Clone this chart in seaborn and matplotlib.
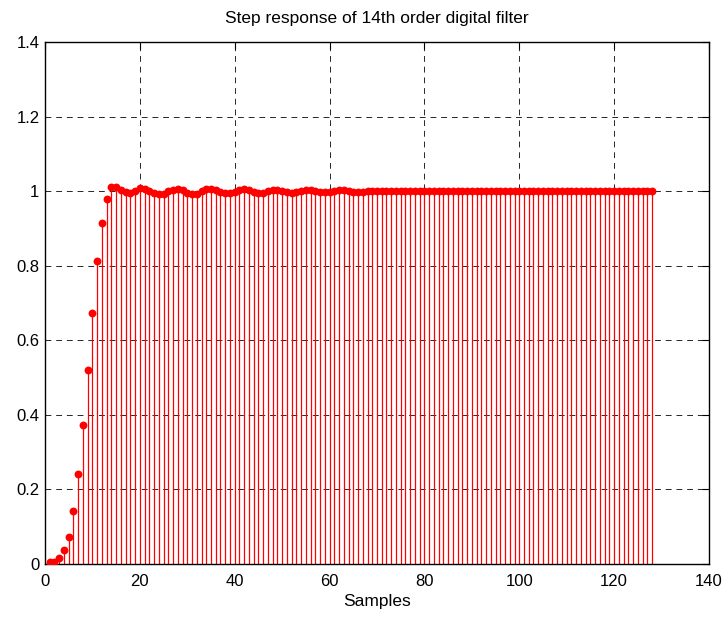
import matplotlib
matplotlib.use("Agg")
import matplotlib.pyplot as plt
import seaborn as sns
import numpy as np
import pandas as pd

# ---- data ----
samples = list(range(1, 129))
rise = [0.004, 0.005, 0.016, 0.037, 0.073, 0.143, 0.241, 0.372, 0.519, 0.673,
        0.812, 0.915, 0.979]
ripple = [1.010, 1.010, 1.003, 0.997, 0.995, 1.000, 1.008, 1.006, 1.000, 0.994,
          0.991, 0.993, 0.999, 1.004, 1.005, 1.002, 0.995, 0.991, 0.993, 0.999,
          1.005, 1.006, 1.003, 0.998, 0.995, 0.995, 0.998, 1.004, 1.006, 1.004,
          0.998, 0.995, 0.995, 0.999, 1.004, 1.004, 1.001, 0.997, 0.996, 0.997,
          1.000, 1.002, 1.002, 1.001, 0.998, 0.997, 0.998, 1.000, 1.002, 1.002,
          1.001, 0.998, 0.997, 0.998, 1.000, 1.001, 1.001, 1.000, 0.999, 0.999]
settled = [1.000] * (128 - len(rise) - len(ripple))
response = rise + ripple + settled

xticks = [0, 20, 40, 60, 80, 100, 120, 140]
yticks = [0, 0.2, 0.4, 0.6, 0.8, 1.0, 1.2, 1.4]
ytick_labels = ["0", "0.2", "0.4", "0.6", "0.8", "1", "1.2", "1.4"]

df = pd.DataFrame({"Samples": samples, "y": response})

sns.set_theme(style="white")
plt.rcParams["font.family"] = ["Liberation Sans", "DejaVu Sans"]
plt.rcParams["text.color"] = "black"
plt.rcParams["axes.labelcolor"] = "black"

fig = plt.figure(figsize=(7.27, 6.19), dpi=100)
ax = fig.add_axes([0.0619, 0.0889, 0.9133, 0.8433])

ax.vlines(df["Samples"], 0, df["y"], colors="#ff0000", linewidth=0.9, zorder=2)
sns.scatterplot(data=df, x="Samples", y="y", ax=ax, color="#ff0000",
                s=32, edgecolor="#ff0000", linewidth=0, zorder=3, legend=False)

ax.set_xlim(0, 140)
ax.set_ylim(0, 1.4)
ax.set_xticks(xticks)
ax.set_yticks(yticks)
ax.set_yticklabels(ytick_labels)
ax.grid(True, color="black", linestyle=(0, (6, 5)), linewidth=0.7, alpha=0.85)
ax.set_axisbelow(True)
for s in ax.spines.values():
    s.set_color("black")
    s.set_linewidth(1.0)
ax.tick_params(axis="both", direction="in", top=True, right=True, length=5,
               width=0.8, labelsize=12, colors="black")
ax.tick_params(axis="x", pad=7)
ax.tick_params(axis="y", pad=4)
ax.set_xlabel("Samples", fontsize=12.5, labelpad=4, color="black")
ax.set_ylabel("")
ax.set_title("Step response of 14th order digital filter", fontsize=12.5,
             pad=14, color="black")

fig.savefig("out.png", dpi=100)
